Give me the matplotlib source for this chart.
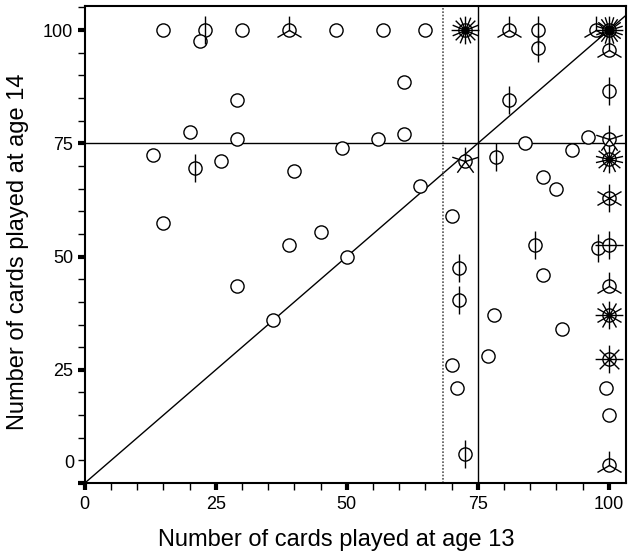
import matplotlib
matplotlib.use("Agg")
import matplotlib.pyplot as plt
import numpy as np
from matplotlib.path import Path

plt.rcParams["font.family"] = ["Liberation Sans", "DejaVu Sans"]

# cards played at age 13 / age 14, and how many children share each pair
age13 = [15, 23, 22, 30, 39, 48, 57, 65, 72.5, 81, 86.5, 86.5, 97.5, 100, 100,
         29, 61, 81, 100, 20, 29, 56, 61, 49, 13, 26, 21, 40, 72.5, 78.5,
         84, 93, 96, 100, 100, 87.5, 90, 64, 100, 15, 39, 45, 29, 50, 36,
         70, 86, 98, 100, 71.5, 87.5, 71.5, 100, 78, 91, 100, 77, 100, 70,
         99.5, 71, 100, 72.5, 100]
age14 = [100, 100, 97.5, 100, 100, 100, 100, 100, 100, 100, 100, 96, 100, 100, 95.5,
         84.5, 88.5, 84.5, 86.5, 77.5, 76, 76, 77, 74, 72.5, 71, 69.5, 69, 71, 72,
         75, 73.5, 76.5, 76, 71.5, 67.5, 65, 65.5, 63, 57.5, 52.5, 55.5, 43.5, 50, 36,
         59, 52.5, 52, 52.5, 47.5, 46, 40.5, 43.5, 37, 34, 37, 28, 27.5, 26,
         21, 21, 15, 6.5, 4]
counts = [1, 2, 1, 1, 3, 1, 1, 1, 16, 3, 2, 2, 3, 20, 3,
          1, 1, 2, 2, 1, 1, 1, 1, 1, 1, 1, 2, 1, 5, 2,
          1, 1, 1, 5, 14, 1, 1, 1, 6, 1, 1, 1, 1, 1, 1,
          1, 2, 2, 4, 2, 1, 2, 3, 1, 1, 12, 1, 8, 1,
          1, 1, 1, 2, 3]
ticks = [0, 25, 50, 75, 100]
cutoff = 68.4

age13 = np.array(age13)
age14 = np.array(age14)
counts = np.array(counts)


def petals(n):
    # one line per observation, first petal pointing straight up
    verts, codes = [], []
    for a in np.pi / 2 + 2 * np.pi * np.arange(n) / n:
        verts += [(0, 0), (np.cos(a), np.sin(a))]
        codes += [Path.MOVETO, Path.LINETO]
    return Path(verts, codes)


fig = plt.figure(figsize=(6.28, 5.54), dpi=100)
ax = fig.add_axes([0.135, 0.128, 0.862, 0.861])

ax.axline((0, 0), (1, 1), color="black", lw=1)
ax.axhline(75, color="black", lw=1)
ax.axvline(75, color="black", lw=1)
ax.axvline(cutoff, color="#555555", lw=1.2, ls=(0, (1, 1)))

ax.plot(age13, age14, "o", ms=9.5, mfc="white", mec="black", mew=1.0, ls="none", zorder=3)
for n in np.unique(counts[counts > 1]):
    m = counts == n
    ax.plot(age13[m], age14[m], marker=petals(n), ms=20, ls="none",
            mec="black", mew=1.0, zorder=4)

ax.set_xlim(0, 103.3)
ax.set_ylim(0, 105.3)
ax.set_xticks(ticks)
ax.set_yticks(ticks)
ax.set_xticks(np.arange(0, 104, 5), minor=True)
ax.set_yticks(np.arange(0, 106, 5), minor=True)
ax.tick_params(which="major", length=5, width=3, labelsize=13)
ax.tick_params(which="minor", length=5, width=1)
ax.tick_params(axis="x", which="major", pad=4.5)
for s in ax.spines.values():
    s.set_linewidth(1.5)

# y "0" sits a little higher so it clears the x "0"
ax.set_yticklabels([""] + [str(t) for t in ticks[1:]])
ax.annotate("0", xy=(0, 0), xycoords=("axes fraction", "data"),
            xytext=(-10, 20), textcoords="offset pixels",
            ha="right", va="center", fontsize=13)

ax.set_xlabel("Number of cards played at age 13", fontsize=17, va="center")
ax.set_ylabel("Number of cards played at age 14", fontsize=17, va="center")
ax.xaxis.set_label_coords(0.464, -0.12)
ax.yaxis.set_label_coords(-0.124, 0.484)

fig.savefig("out.png", dpi=100)
